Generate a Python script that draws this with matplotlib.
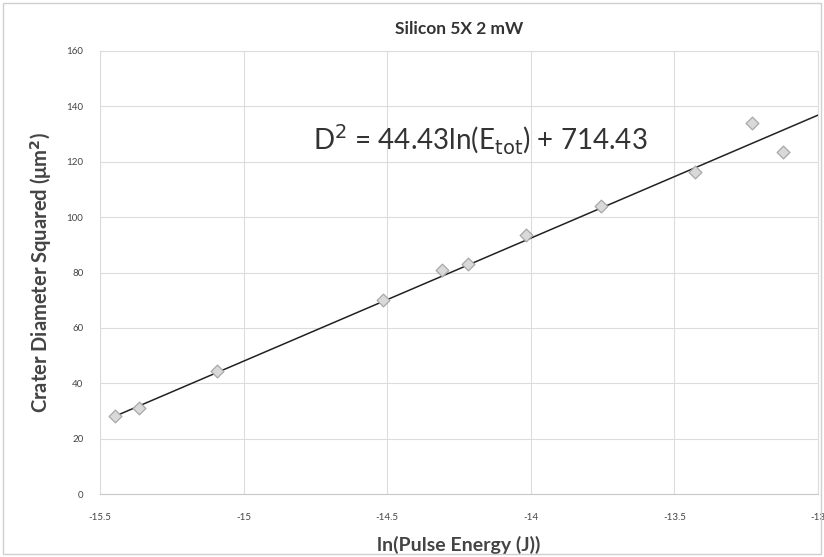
import matplotlib.pyplot as plt
import numpy as np
from matplotlib.patches import Rectangle

# valores
ln_energia = [-15.448, -15.363, -15.092, -14.516, -14.309, -14.219,
              -14.017, -13.754, -13.427, -13.230, -13.123]
diam2 = [28.2, 30.9, 44.5, 70.0, 80.9, 82.9, 93.5, 104.0, 116.4, 134.0, 123.6]

pendiente = 44.43
intercepto = 714.43
x_ticks = [-15.5, -15, -14.5, -14, -13.5, -13]
x_tick_labels = ['-15.5', '-15', '-14.5', '-14', '-13.5', '-13']
y_ticks = [0, 20, 40, 60, 80, 100, 120, 140, 160]

plt.rcParams['font.family'] = ['Lato', 'DejaVu Sans']

fig = plt.figure(figsize=(8.24, 5.57), dpi=100)
ax = fig.add_axes([100/824, 1 - 494/557, 718/824, 443/557])

# linea de tendencia
xl = np.array([min(ln_energia), -13.0])
ax.plot(xl, pendiente * xl + intercepto, color='#222222', lw=1.1, zorder=3)

ax.scatter(ln_energia, diam2, marker='D', s=42, facecolor='#d9d9d9',
           edgecolor='#a8a8a8', linewidth=0.9, zorder=4)

ax.set_xlim(-15.5, -13)
ax.set_ylim(0, 160)
ax.set_xticks(x_ticks)
ax.set_xticklabels(x_tick_labels)
ax.set_yticks(y_ticks)
ax.grid(True, color='#dcdcdc', lw=0.8)
ax.set_axisbelow(True)
ax.tick_params(length=0, labelsize=7, colors='#444444', pad=12)
ax.tick_params(axis='x', pad=14)
for s in ax.spines.values():
    s.set_color('#dcdcdc')
    s.set_linewidth(0.8)
ax.spines['bottom'].set_color('#c8c8c8')

ax.set_title('Silicon 5X 2 mW', fontsize=12.5, fontweight='bold', color='#333333', pad=12)
ax.set_xlabel('ln(Pulse Energy (J))', fontsize=14, fontweight='bold', color='#444444', labelpad=10)
ax.set_ylabel('Crater Diameter Squared (μm$^\\mathbf{2}$)', fontsize=14.5, fontweight='bold',
              color='#444444', labelpad=9)

ax.text(-14.175, 128, 'D$^{2}$ = 44.43ln(E$_{\\mathrm{tot}}$) + 714.43', fontsize=20,
        color='#333333', ha='center', va='center')

fig.patches.append(Rectangle((3/824, 3/557), 818/824, 551/557, transform=fig.transFigure,
                             fill=False, edgecolor='#cfcfcf', lw=1))

fig.savefig('out.png', dpi=100)
